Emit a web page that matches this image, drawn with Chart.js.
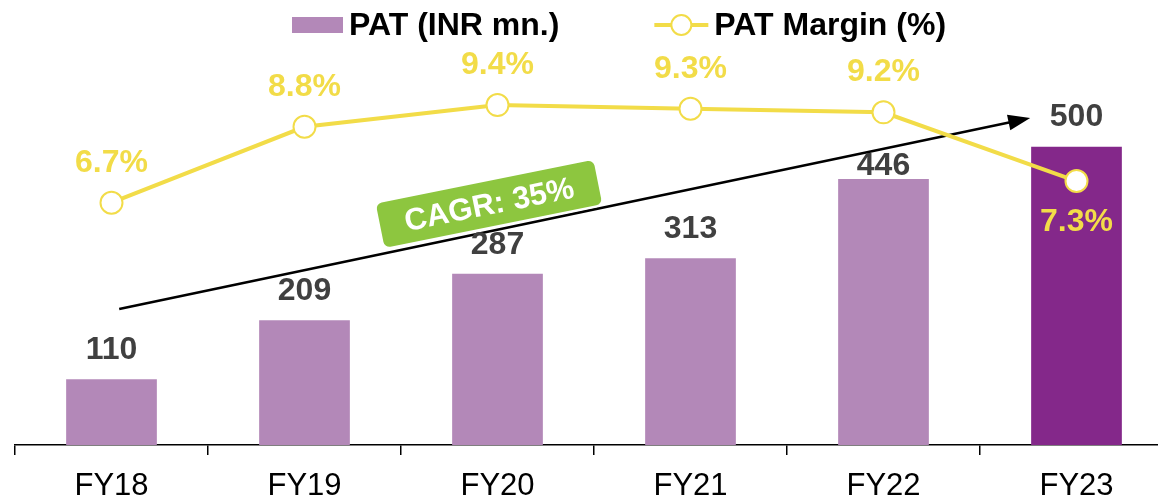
<!DOCTYPE html>
<html>
<head>
<meta charset="utf-8">
<title>PAT and PAT Margin</title>
<script src="https://cdn.jsdelivr.net/npm/chart.js@4.4.1/dist/chart.umd.min.js"></script>
<style>
    html, body { margin: 0; padding: 0; overflow: hidden; background: #fff; }
    #wrap { width: 1158px; height: 498px; overflow: hidden; }
</style>
</head>
<body>
<div id="wrap"><canvas id="patChart" width="1186" height="498"></canvas></div>
<script>
// Chart data
const years = ['FY18', 'FY19', 'FY20', 'FY21', 'FY22', 'FY23'];
const patValues = [110, 209, 287, 313, 446, 500];
const patMargin = [6.7, 8.8, 9.4, 9.3, 9.2, 7.3];
const barColors = ['#B388B8', '#B388B8', '#B388B8', '#B388B8', '#B388B8', '#84288A'];
const legendLabels = ['PAT (INR mn.)', 'PAT Margin (%)'];
const cagrText = 'CAGR: 35%';
// arrow ends, in (category index, PAT value)
const cagrFrom = [0.04, 228];
const cagrTo = [4.76, 548];

const FONT = '"Liberation Sans", Arial, sans-serif';
const YELLOW = '#F2DC48';
const LIGHT_PURPLE = '#B388B8';

/**
 * Legend drawn by hand: swatch, line-with-marker and bold labels
 */
const topLegend = {
    id: 'topLegend',
    afterDraw(chart) {
        const ctx = chart.ctx;
        const y = 25;
        let x = 292;
        ctx.save();
        ctx.font = 'bold 32px ' + FONT;
        ctx.textBaseline = 'middle';
        ctx.textAlign = 'left';

        ctx.fillStyle = LIGHT_PURPLE;
        ctx.fillRect(x, y - 8, 51, 16);
        x += 51 + 6;
        ctx.fillStyle = '#000';
        ctx.fillText(legendLabels[0], x, y + 1);
        x += ctx.measureText(legendLabels[0]).width + 95;

        ctx.strokeStyle = YELLOW;
        ctx.lineWidth = 4;
        ctx.beginPath();
        ctx.moveTo(x, y);
        ctx.lineTo(x + 54, y);
        ctx.stroke();
        ctx.lineWidth = 2;
        ctx.fillStyle = '#fff';
        ctx.beginPath();
        ctx.arc(x + 27, y, 10, 0, Math.PI * 2);
        ctx.fill();
        ctx.stroke();
        x += 54 + 6;
        ctx.fillStyle = '#000';
        ctx.fillText(legendLabels[1], x, y + 1);
        ctx.restore();
    }
};

/**
 * Value labels for bars and line points
 */
const valueLabels = {
    id: 'valueLabels',
    afterDatasetsDraw(chart) {
        const ctx = chart.ctx;
        ctx.save();
        ctx.textAlign = 'center';
        ctx.textBaseline = 'middle';

        ctx.font = 'bold 32px ' + FONT;
        ctx.fillStyle = '#404040';
        chart.getDatasetMeta(0).data.forEach((bar, i) => {
            // FY22 label sits lower, just under the arrow
            const lift = i === 4 ? 13 : 29;
            ctx.fillText(patValues[i], bar.x, bar.y - lift);
        });

        ctx.fillStyle = YELLOW;
        chart.getDatasetMeta(1).data.forEach((pt, i) => {
            const below = i === patMargin.length - 1;
            ctx.fillText(patMargin[i].toFixed(1) + '%', pt.x, pt.y + (below ? 41 : -40));
        });
        ctx.restore();
    }
};

/**
 * CAGR arrow and green badge
 */
const cagrArrow = {
    id: 'cagrArrow',
    beforeDatasetsDraw(chart) {
        const ctx = chart.ctx;
        const xs = chart.scales.x, ys = chart.scales.y;
        const x1 = xs.getPixelForValue(cagrFrom[0]), y1 = ys.getPixelForValue(cagrFrom[1]);
        const x2 = xs.getPixelForValue(cagrTo[0]), y2 = ys.getPixelForValue(cagrTo[1]);
        const ang = Math.atan2(y2 - y1, x2 - x1);

        ctx.save();
        ctx.strokeStyle = '#000';
        ctx.fillStyle = '#000';
        ctx.lineWidth = 2.5;
        ctx.beginPath();
        ctx.moveTo(x1, y1);
        ctx.lineTo(x2 - 18 * Math.cos(ang), y2 - 18 * Math.sin(ang));
        ctx.stroke();
        // arrow head
        ctx.translate(x2, y2);
        ctx.rotate(ang);
        ctx.beginPath();
        ctx.moveTo(0, 0);
        ctx.lineTo(-22, -8);
        ctx.lineTo(-22, 8);
        ctx.closePath();
        ctx.fill();
        ctx.restore();

        // badge
        const t = 0.412;
        const cx = x1 + (x2 - x1) * t + 27 * Math.sin(ang);
        const cy = y1 + (y2 - y1) * t - 27 * Math.cos(ang);
        const w = 224, h = 47;
        ctx.save();
        ctx.translate(cx, cy);
        ctx.rotate(ang + 0.008);
        ctx.beginPath();
        ctx.roundRect(-w / 2, -h / 2, w, h, 7);
        ctx.fillStyle = '#8DC63F';
        ctx.strokeStyle = '#fff';
        ctx.lineWidth = 2;
        ctx.fill();
        ctx.stroke();
        ctx.fillStyle = '#fff';
        ctx.font = 'bold 31px ' + FONT;
        ctx.textAlign = 'center';
        ctx.textBaseline = 'middle';
        ctx.fillText(cagrText, 0, 2);
        ctx.restore();
    }
};

const ctx = document.getElementById('patChart').getContext('2d');
new Chart(ctx, {
    data: {
        labels: years,
        datasets: [{
            type: 'bar',
            label: legendLabels[0],
            data: patValues,
            backgroundColor: barColors,
            categoryPercentage: 1,
            barPercentage: 0.47,
            yAxisID: 'y',
            order: 2
        }, {
            type: 'line',
            label: legendLabels[1],
            data: patMargin,
            borderColor: YELLOW,
            borderWidth: 4,
            pointRadius: 11,
            pointBorderWidth: 2,
            pointBackgroundColor: '#fff',
            pointBorderColor: YELLOW,
            tension: 0,
            yAxisID: 'y1',
            order: 1
        }]
    },
    options: {
        responsive: false,
        animation: false,
        layout: { padding: { left: 15, right: 7, top: 87, bottom: 0 } },
        plugins: {
            tooltip: { enabled: false },
            legend: { display: false }
        },
        scales: {
            x: {
                offset: true,
                afterFit(scale) { scale.height = 53; },
                grid: {
                    offset: true,
                    drawOnChartArea: false,
                    drawTicks: true,
                    tickLength: 10,
                    color: '#000',
                    lineWidth: 1.5
                },
                border: { display: true, color: '#000', width: 1.5 },
                ticks: {
                    color: '#000',
                    padding: 16,
                    font: { family: FONT, size: 31, lineHeight: 1 }
                }
            },
            y: { display: false, min: 0, max: 600 },
            y1: { display: false, min: 0, max: 9.9, position: 'right' }
        }
    },
    plugins: [cagrArrow, valueLabels, topLegend]
});
</script>
</body>
</html>
